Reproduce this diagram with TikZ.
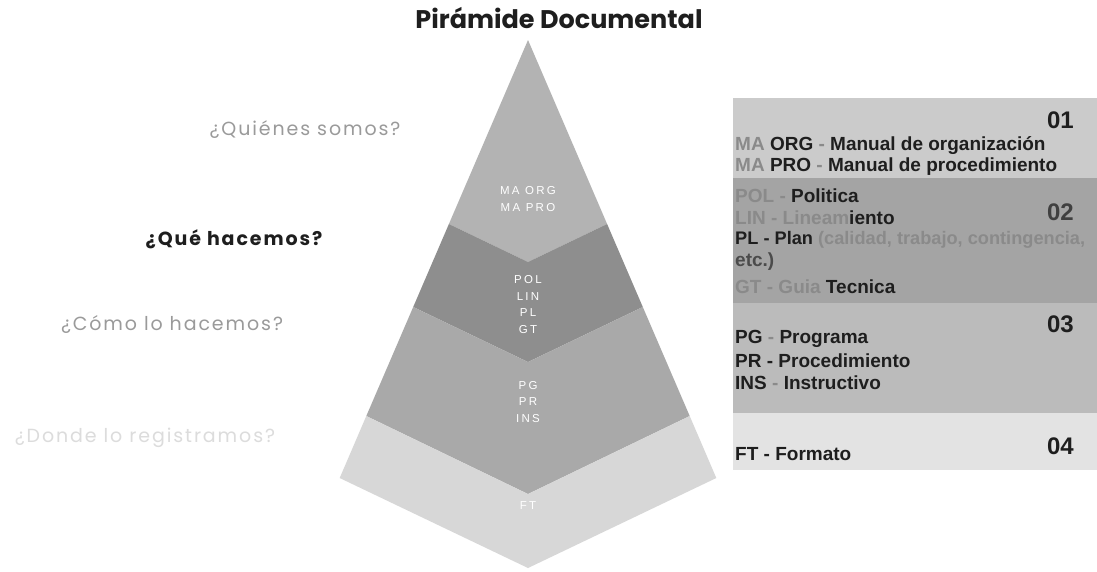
\documentclass[tikz,border=0pt]{standalone}
\usepackage{fontspec}
\setmainfont{Liberation Sans}
\newfontfamily\popp{Poppins}
\newfontfamily\lblfont[LetterSpace=20]{Liberation Sans}
\newfontfamily\qfont[LetterSpace=10]{Poppins}
\definecolor{layA}{HTML}{B3B3B3}
\definecolor{layB}{HTML}{8E8E8E}
\definecolor{layC}{HTML}{A9A9A9}
\definecolor{layD}{HTML}{D7D7D7}
\definecolor{boxA}{HTML}{CBCBCB}
\definecolor{boxB}{HTML}{A4A4A4}
\definecolor{boxC}{HTML}{BBBBBB}
\definecolor{boxD}{HTML}{E3E3E3}
\definecolor{codegray}{HTML}{8A8A8A}
\definecolor{txtdark}{HTML}{1E1E1E}
\definecolor{qgray}{HTML}{9A9A9A}
\definecolor{qlight}{HTML}{DCDCDC}
\tikzset{
  lbl/.style={text=white,font=\lblfont\fontsize{11.5}{16.5}\selectfont,align=center,inner sep=0pt},
  itm/.style={anchor=west,inner sep=0pt,text=txtdark,font=\bfseries\fontsize{19}{21}\selectfont},
  num/.style={anchor=east,inner sep=0pt,text=txtdark,font=\bfseries\fontsize{24}{24}\selectfont},
  ques/.style={inner sep=0pt,font=\qfont\fontsize{19}{22}\selectfont}
}
\begin{document}
\begin{tikzpicture}[x=1pt,y=-1pt]
\useasboundingbox (0,0) rectangle (1097,571);
\fill[white] (0,0) rectangle (1097,571);
% title
\node[font=\popp\bfseries\fontsize{25.5}{28}\selectfont,text=txtdark,inner sep=0pt] (title) at (559,18) {Pirámide Documental};
% pyramid layers
\fill[layA] (528,40) -- (448.9,224) -- (528,262) -- (607.1,224) -- cycle;
\fill[layB] (448.9,224) -- (413.2,307) -- (528,362) -- (642.8,307) -- (607.1,224) -- (528,262) -- cycle;
\fill[layC] (413.2,307) -- (366.3,416) -- (528,494) -- (689.7,416) -- (642.8,307) -- (528,362) -- cycle;
\fill[layD] (366.3,416) -- (339.7,478) -- (528,568) -- (716.3,478) -- (689.7,416) -- (528,494) -- cycle;
% pyramid labels
\node[lbl] (l1) at (528,199) {MA ORG\\MA PRO};
\node[lbl] (l2) at (528,304.5) {POL\\LIN\\PL\\GT};
\node[lbl] (l3) at (528,402) {PG\\PR\\INS};
\node[lbl] (l4) at (528,506) {FT};
% questions
\node[ques,text=qgray] (q1) at (305,130) {¿Quiénes somos?};
\node[ques,text=txtdark,font=\qfont\bfseries\fontsize{19}{22}\selectfont] (q2) at (234,239) {¿Qué hacemos?};
\node[ques,text=qgray] (q3) at (172,324) {¿Cómo lo hacemos?};
\node[ques,text=qlight] (q4) at (145,438) {¿Donde lo registramos?};
% boxes
\fill[boxA] (733,98) rectangle (1097,178);
\fill[boxB] (733,178) rectangle (1097,303);
\fill[boxC] (733,303) rectangle (1097,413);
\fill[boxD] (733,413) rectangle (1097,470);
% box 1
\node[num] (n1) at (1074,120) {01};
\node[itm] (t11) at (735,146) {\textcolor{codegray}{MA} ORG \textcolor{codegray}{-} Manual de organización};
\node[itm] (t12) at (735,167) {\textcolor{codegray}{MA} PRO \textcolor{codegray}{-} Manual de procedimiento};
% box 2
\node[num,text=txtdark!85] (n2) at (1074,212) {02};
\node[itm] (t21) at (735,196) {\textcolor{codegray}{POL -} Politica};
\node[itm] (t22) at (735,218) {\textcolor{codegray}{LIN - Lineam}iento};
\node[itm,font=\bfseries\fontsize{18.2}{21}\selectfont] (t23) at (735,240) {PL - Plan \textcolor{codegray}{(calidad, trabajo, contingencia,}};
\node[itm] (t24) at (735,262) {\textcolor{txtdark!80}{etc.)}};
\node[itm] (t25) at (735,287) {\textcolor{codegray}{GT - Guia} Tecnica};
% box 3
\node[num] (n3) at (1074,324) {03};
\node[itm] (t31) at (735,339) {PG \textcolor{codegray}{-} Programa};
\node[itm] (t32) at (735,361) {PR - Procedimiento};
\node[itm] (t33) at (735,383) {INS \textcolor{codegray}{-} Instructivo};
% box 4
\node[num] (n4) at (1074,446) {04};
\node[itm] (t41) at (735,454) {FT - Formato};
\end{tikzpicture}
\end{document}
